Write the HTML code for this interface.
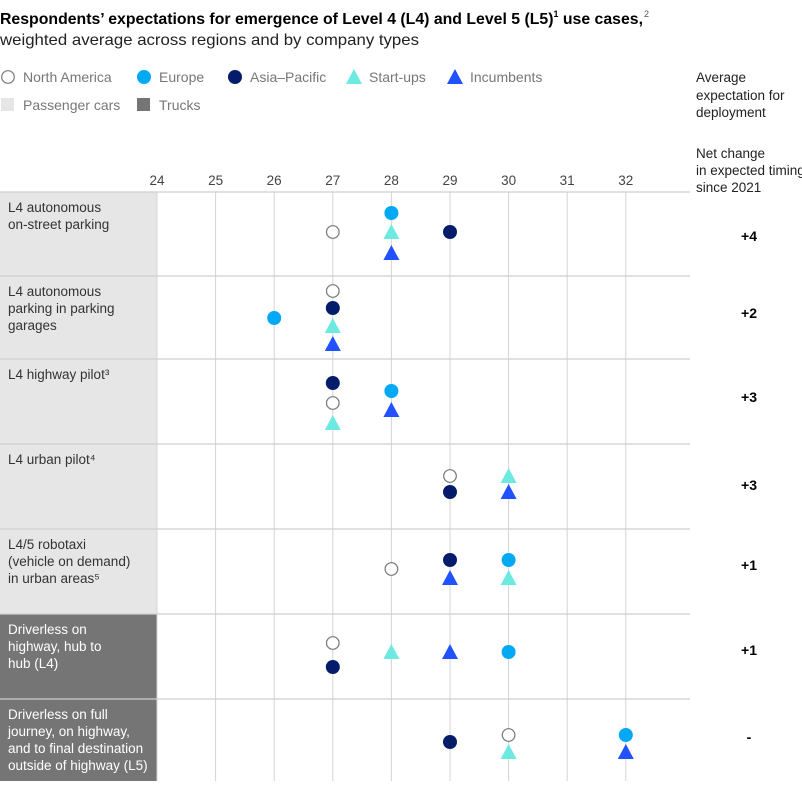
<!DOCTYPE html>
<html><head><meta charset="utf-8">
<style>
body{margin:0;background:#fff;font-family:"Liberation Sans",Arial,sans-serif;}
svg text{font-family:"Liberation Sans",Arial,sans-serif;}
</style></head>
<body>
<svg id="chart" width="802" height="781" viewBox="0 0 802 781">
<text x="0" y="24" font-size="16" font-weight="bold" fill="#000" textLength="643" lengthAdjust="spacingAndGlyphs">Respondents’ expectations for emergence of Level 4 (L4) and Level 5 (L5)<tspan font-size="9" dy="-7">1</tspan><tspan dy="7"> use cases,</tspan></text>
<text x="644" y="17" font-size="9" fill="#555">2</text>
<text x="0" y="45" font-size="16" fill="#222" textLength="419" lengthAdjust="spacingAndGlyphs">weighted average across regions and by company types</text>
<g id="legend" font-size="14" fill="#777"></g>
<text font-size="13.5" fill="#222"><tspan x="696" y="82">Average</tspan><tspan x="696" y="100">expectation for</tspan><tspan x="696" y="117">deployment</tspan></text>
<text font-size="13.5" fill="#222"><tspan x="696" y="158">Net change</tspan><tspan x="696" y="175">in expected timing</tspan><tspan x="696" y="192">since 2021</tspan></text>
<g id="plot"></g>
</svg>
<script>
const ticks=[24,25,26,27,28,29,30,31,32];
const categories=[
 ["L4 autonomous","on-street parking"],
 ["L4 autonomous","parking in parking","garages"],
 ["L4 highway pilot³"],
 ["L4 urban pilot⁴"],
 ["L4/5 robotaxi","(vehicle on demand)","in urban areas⁵"],
 ["Driverless on","highway, hub to","hub (L4)"],
 ["Driverless on full","journey, on highway,","and to final destination","outside of highway (L5)"]
];
const vehicleType=["car","car","car","car","car","truck","truck"];
const netChange=["+4","+2","+3","+3","+1","+1","-"];
const northAmerica=[27,27,27,29,28,27,30];
const europe=[28,26,28,null,30,30,32];
const asiaPacific=[29,27,27,29,29,27,29];
const startUps=[28,27,27,30,30,28,30];
const incumbents=[28,27,28,30,29,29,32];
// layout: vertical offsets within row (pixels from row top), not data
const rowTops=[192,276,359,444,529,614,699,781];
const offNA=[40,15,44,32,40,29,36];
const offEU=[21,42,32,0,31,38,36];
const offAP=[40,32,24,48,31,53,43];
const offSU=[40,50,64,32,49,38,53];
const offINC=[61,68,51,48,49,38,53];
const offNet=[49,42,43,46,41,41,43];

const NS="http://www.w3.org/2000/svg";
const plot=document.getElementById('plot');
const legend=document.getElementById('legend');
const x0=157,step=58.6,xRight=690;
function xs(v){return x0+(v-24)*step;}
function mk(tag,attrs,parent){const e=document.createElementNS(NS,tag);for(const k in attrs)e.setAttribute(k,attrs[k]);(parent||plot).appendChild(e);return e;}
const C={na:"#fff",eu:"#00a9f4",ap:"#051c6b",su:"#6ce9e0",inc:"#2251ff"};
function circle(cx,cy,fill,parent,name){
 const c=mk('circle',{cx:cx,cy:cy,r:fill==="#fff"?6.3:7,fill:fill,stroke:fill==="#fff"?"#777":"none","stroke-width":1.2},parent);
 
 
}
function tri(cx,cy,fill,parent,name){
 const p=mk('polygon',{points:`${cx},${cy-8} ${cx+8},${cy+7} ${cx-8},${cy+7}`,fill:fill},parent);
 
 
}
const leg=[["North America","c",C.na,0],["Europe","c",C.eu,136],["Asia–Pacific","c",C.ap,227],["Start-ups","t",C.su,346],["Incumbents","t",C.inc,447]];
leg.forEach(l=>{
 const g=mk('g',{},legend);
 
 
 if(l[1]==="c")circle(l[3]+8,77,l[2],g,'legend-marker');else tri(l[3]+8,77,l[2],g,'legend-marker');
 const t=mk('text',{x:l[3]+23,y:82},g);t.textContent=l[0];
});
[["Passenger cars","#e6e6e6",0],["Trucks","#757575",136]].forEach(l=>{
 const g=mk('g',{},legend);
 
 
 mk('rect',{x:l[2]+1,y:98,width:13,height:13,fill:l[1]},g);
 const t=mk('text',{x:l[2]+23,y:110},g);t.textContent=l[0];
});
ticks.forEach(v=>{
 const t=mk('text',{x:xs(v),y:185,"text-anchor":"middle","font-size":"13.5",fill:"#444"});
 t.textContent=v;
 
 
});
categories.forEach((cat,i)=>{
 const y=rowTops[i],h=rowTops[i+1]-y;
 const truck=vehicleType[i]==="truck";
 const r=mk('rect',{x:0,y:y,width:x0,height:h,fill:truck?"#757575":"#e6e6e6"});
 
 
 const t=mk('text',{"font-size":"13.5",fill:truck?"#fff":"#333"});
 
 
 cat.forEach((line,j)=>{const s=mk('tspan',{x:8,y:y+20+j*17},t);s.textContent=line;});
});
ticks.forEach(v=>{
 const l=mk('line',{x1:xs(v),x2:xs(v),y1:192,y2:781,stroke:"#d4d4d4","stroke-width":1});
 
 
});
rowTops.slice(0,7).forEach(y=>{
 const l=mk('line',{x1:0,x2:xRight,y1:y,y2:y,stroke:"#cfcfcf","stroke-width":1.2});
 
 
});
categories.forEach((cat,i)=>{
 const y=rowTops[i];
 if(northAmerica[i]!=null)circle(xs(northAmerica[i]),y+offNA[i],C.na,plot,'point-north-america');
 if(europe[i]!=null)circle(xs(europe[i]),y+offEU[i],C.eu,plot,'point-europe');
 if(asiaPacific[i]!=null)circle(xs(asiaPacific[i]),y+offAP[i],C.ap,plot,'point-asia-pacific');
 if(startUps[i]!=null)tri(xs(startUps[i]),y+offSU[i],C.su,plot,'point-start-ups');
 if(incumbents[i]!=null)tri(xs(incumbents[i]),y+offINC[i],C.inc,plot,'point-incumbents');
 const t=mk('text',{x:749,y:y+offNet[i],"text-anchor":"middle","font-size":"14","font-weight":"bold",fill:"#000"});
 t.textContent=netChange[i];
 
 
});
</script>
</body></html>
